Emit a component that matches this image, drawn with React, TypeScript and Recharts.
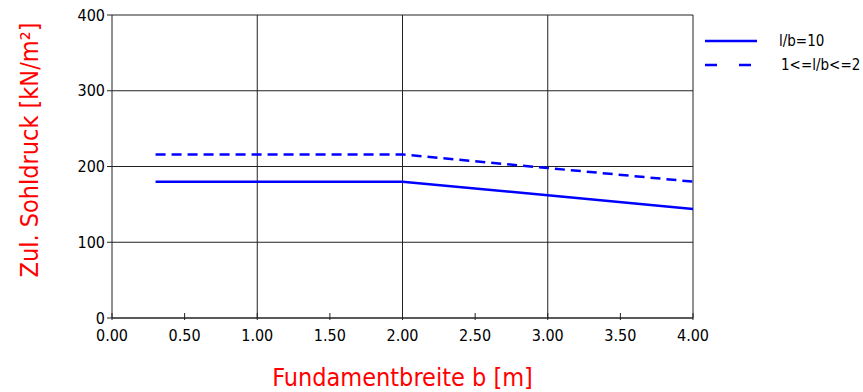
import React from 'react';
import { LineChart, Line, XAxis, YAxis, CartesianGrid, ReferenceLine, Label } from 'recharts';

const widths = [0.3, 2.0, 3.0, 4.0];
const longStrip = [180, 180, 162, 144];
const squareish = [216, 216, 198, 180];
const xTicks = [0, 0.5, 1, 1.5, 2, 2.5, 3, 3.5, 4];
const yTicks = [0, 100, 200, 300, 400];
const gridX = [1, 2, 3, 4];

const data = widths.map((b, i) => ({ b, long: longStrip[i], square: squareish[i] }));

const FONT = '"DejaVu Sans Condensed", "DejaVu Sans", sans-serif';

const XTick = (props: any) => {
  const { x, y, payload } = props;
  return (
    <g>
      <line x1={x} x2={x} y1={y - 5} y2={y + 2} stroke="#222" />
      <text x={x} y={y + 23} textAnchor="middle" fill="#000" fontSize={16} fontFamily={FONT}>
        {Number(payload.value).toFixed(2)}
      </text>
    </g>
  );
};

const YTitle = () => (
  <text
    transform="translate(38,150) rotate(-90)"
    textAnchor="middle"
    fill="#ff0000"
    fontSize={25}
    fontFamily={FONT}
  >
    Zul. Sohldruck [kN/m²]
  </text>
);

const LegendBox = () => (
  <div style={{ position: 'absolute', left: 705, top: 29, fontFamily: FONT, fontSize: 15, color: '#000' }}>
    <div style={{ display: 'flex', alignItems: 'center', height: 24 }}>
      <svg width={52} height={6}><line x1={0} x2={52} y1={3} y2={3} stroke="#0000ff" strokeWidth={2.5} /></svg>
      <span style={{ marginLeft: 22 }}>l/b=10</span>
    </div>
    <div style={{ display: 'flex', alignItems: 'center', height: 24 }}>
      <svg width={52} height={6}><line x1={0} x2={52} y1={3} y2={3} stroke="#0000ff" strokeWidth={2.5} strokeDasharray="12 22" /></svg>
      <span style={{ marginLeft: 24 }}>1&lt;=l/b&lt;=2</span>
    </div>
  </div>
);

export default function App() {
  return (
    <div style={{ position: 'absolute', left: 0, top: 0, width: 863, height: 392, background: '#fff' }}>
      <LineChart width={863} height={392} data={data} margin={{ top: 15, right: 170, bottom: 44, left: 52 }}>
        <CartesianGrid vertical={false} stroke="#222" strokeOpacity={1} />
        {gridX.map((v) => (
          <ReferenceLine key={v} x={v} stroke="#222" />
        ))}
        <XAxis
          dataKey="b"
          type="number"
          domain={[0, 4]}
          ticks={xTicks}
          tick={<XTick />}
          tickLine={false}
          tickSize={0}
          tickMargin={0}
          height={30}
          stroke="#222"
          interval={0}
        >
          <Label value="Fundamentbreite b [m]" position="bottom" offset={20} fill="#ff0000" fontSize={25} fontFamily={FONT} />
        </XAxis>
        <YAxis
          type="number"
          domain={[0, 400]}
          ticks={yTicks}
          width={60}
          tickSize={5}
          tickMargin={2}
          stroke="#222"
          tick={{ fill: '#000', fontSize: 16, fontFamily: FONT }}
        >
          <Label content={<YTitle />} />
        </YAxis>
        <Line dataKey="long" stroke="#0000ff" strokeWidth={2.5} dot={false} isAnimationActive={false} />
        <Line dataKey="square" stroke="#0000ff" strokeWidth={2.5} strokeDasharray="10 6" dot={false} isAnimationActive={false} />
      </LineChart>
      <LegendBox />
    </div>
  );
}
